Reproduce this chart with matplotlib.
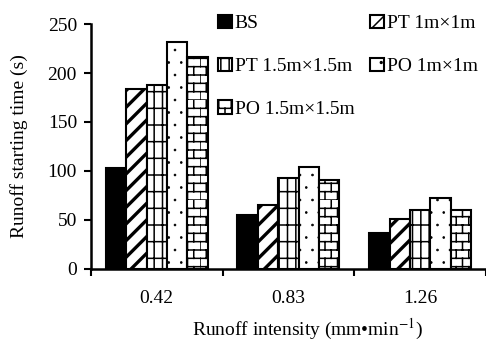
import warnings
import numpy as np
import matplotlib
matplotlib.use("Agg")
import matplotlib.pyplot as plt
import matplotlib.hatch as mhatch
from matplotlib.path import Path

warnings.filterwarnings("ignore", category=matplotlib.MatplotlibDeprecationWarning)

intensity = ["0.42", "0.83", "1.26"]
series = ["BS", "PT 1m×1m", "PT 1.5m×1.5m", "PO 1m×1m", "PO 1.5m×1.5m"]
bs = [103, 55, 37]
pt_1m = [184, 65, 51]
pt_15m = [188, 93, 60]
po_1m = [232, 104, 72]
po_15m = [216, 91, 60]


class BrickHatch(mhatch.HatchPatternBase):
    """'b' in a hatch string draws staggered brick courses."""

    def __init__(self, hatch, density):
        self.num_rows = hatch.count('b') * density
        self.num_cols = self.num_rows * 2 // 3
        self.num_vertices = 2 * self.num_rows * (1 + self.num_cols)

    def set_vertices_and_codes(self, vertices, codes):
        steps = np.linspace(0, 1, self.num_rows + 1)
        k = 0
        for i in range(self.num_rows):
            y0, y1 = steps[i], steps[i + 1]
            vertices[k] = (0, y0)
            vertices[k + 1] = (1, y0)
            k += 2
            shift = 0.5 * (i % 2)
            for j in range(self.num_cols):
                xv = (j + shift) / self.num_cols
                vertices[k] = (xv, y0)
                vertices[k + 1] = (xv, y1)
                k += 2
        codes[0::2] = Path.MOVETO
        codes[1::2] = Path.LINETO


class FineDots(mhatch.Circles):
    """'d' in a hatch string draws small staggered dots."""
    size = 0.07
    filled = True

    def __init__(self, hatch, density):
        self.num_rows = hatch.count('d') * (density + 2)
        super().__init__(hatch, density)


mhatch._hatch_types.extend([BrickHatch, FineDots])

plt.rcParams['font.family'] = ['Liberation Serif', 'DejaVu Serif']
plt.rcParams['mathtext.fontset'] = 'stix'
plt.rcParams['font.size'] = 14
plt.rcParams['hatch.linewidth'] = 1.1

fig = plt.figure(figsize=(4.86, 3.53), dpi=100)
ax = fig.add_axes([0.187, 0.238, 0.813, 0.694])

values = [bs, pt_1m, pt_15m, po_1m, po_15m]
hatches = [None, '//', '+|', 'd', 'bb']
faces = ['black', 'white', 'white', 'white', 'white']
hatch_lw = [1.1, 2.4, 1.1, 0.6, 1.1]

x = np.arange(len(intensity))
width = 0.155
bars = []
for i, (vals, name) in enumerate(zip(values, series)):
    offset = (i - 2) * width
    bars.append(ax.bar(x + offset, vals, width, label=name, color=faces[i],
                       edgecolor='black', linewidth=1.5, hatch=hatches[i],
                       hatch_linewidth=hatch_lw[i]))

ax.set_xlim(-0.5, 2.5)
ax.set_ylim(0, 250)
ax.set_yticks(np.arange(0, 251, 50))

# category labels between boundary ticks
ax.set_xticks(np.arange(-0.5, 2.6, 1.0))
ax.set_xticklabels([])
ax.set_xticks(x, intensity, minor=True)
ax.tick_params(axis='x', which='minor', length=0, pad=15)
ax.tick_params(axis='x', which='major', length=5, width=1.5, direction='out')
ax.tick_params(axis='y', length=5, width=1.5, direction='out', pad=5)

for side in ['top', 'right']:
    ax.spines[side].set_visible(False)
for side in ['left', 'bottom']:
    ax.spines[side].set_linewidth(1.8)

ax.set_ylabel('Runoff starting time (s)')
ax.yaxis.set_label_coords(-0.158, 0.5)
fig.text(0.632, 0.03, r'Runoff intensity (mm•min$^{-1}$)', ha='center', va='bottom')

# legend fills row by row: BS, PT 1m | PT 1.5m, PO 1m | PO 1.5m
order = [0, 2, 4, 1, 3]
ax.legend([bars[i] for i in order], [series[i] for i in order],
          ncol=2, frameon=False, loc='upper left',
          bbox_to_anchor=(0.437, 0.975), bbox_transform=fig.transFigure,
          borderpad=0.3, handlelength=0.7, handleheight=0.7,
          handletextpad=0.15, columnspacing=0.8, labelspacing=1.3,
          borderaxespad=0)

fig.savefig('out.png', dpi=100)
